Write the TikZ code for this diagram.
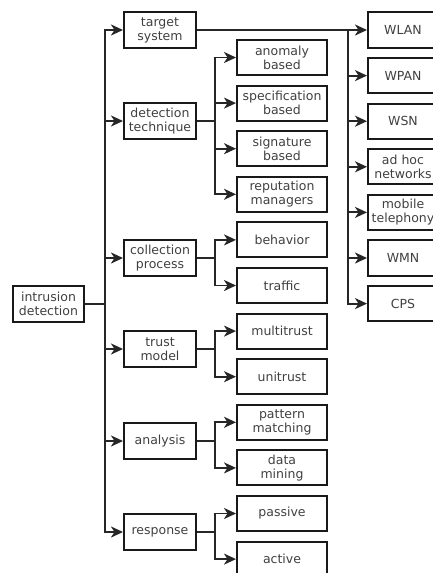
\documentclass[tikz,border=0pt]{standalone}
\usepackage{fontspec}
\setsansfont{DejaVu Sans}
\usetikzlibrary{arrows.meta,positioning}

\begin{document}
\begin{tikzpicture}[->,>={Stealth[length=12pt,width=11pt,inset=3.5pt]},x=1pt,y=-1pt,node distance=8.5pt,
      line width=1.9pt,draw=black!85,
      every node/.style={font=\sffamily\fontsize{12.5}{14}\selectfont,align=center,text=black!75},
      main node/.style={rectangle,draw=black!90,line width=2pt,inner sep=1pt,minimum height=35.1pt},
      cat node/.style={main node,minimum width=72pt},
      sub node/.style={main node,minimum width=90pt},
      net node/.style={main node,minimum width=70pt},
      fork edge/.style={to path={-- ++(#1,0) |- (\tikztotarget) \tikztonodes}}]

    \useasboundingbox (0,0) rectangle (432,573);

    \node[main node,minimum width=71pt] (root) at (48.5,304) {intrusion\\detection};

    \node[cat node] (target) at (160,30) {target\\system};
    \node[cat node] (technique) at (160,121) {detection\\technique};
    \node[cat node] (collection) at (160,258) {collection\\process};
    \node[cat node] (trust) at (160,349) {trust\\model};
    \node[cat node] (analysis) at (160,441) {analysis};
    \node[cat node] (response) at (160,532) {response};

    \node[sub node] (anomaly) at (282,57.5) {anomaly\\based};
    \node[sub node] (spec) [below=of anomaly] {specification\\based};
    \node[sub node] (signature) [below=of spec] {signature\\based};
    \node[sub node] (reputation) [below=of signature] {reputation\\managers};
    \node[sub node] (behavior) [below=of reputation] {behavior};
    \node[sub node] (traffic) [below=of behavior] {traffic};
    \node[sub node] (multi) [below=of traffic] {multitrust};
    \node[sub node] (uni) [below=of multi] {unitrust};
    \node[sub node] (pattern) [below=of uni] {pattern\\matching};
    \node[sub node] (mining) [below=of pattern] {data\\mining};
    \node[sub node] (passive) [below=of mining] {passive};
    \node[sub node] (active) [below=of passive] {active};

    \node[net node] (wlan) at (403,30) {WLAN};
    \node[net node] (wpan) [below=of wlan] {WPAN};
    \node[net node] (wsn) [below=of wpan] {WSN};
    \node[net node] (adhoc) [below=of wsn] {ad hoc\\networks};
    \node[net node] (mobile) [below=of adhoc] {mobile\\telephony};
    \node[net node] (wmn) [below=of mobile] {WMN};
    \node[net node] (cps) [below=of wmn] {CPS};

    % root to categories
    \path (root.east)
    edge[fork edge=20pt] (target.west)
    edge[fork edge=20pt] (technique.west)
    edge[fork edge=20pt] (collection.west)
    edge[fork edge=20pt] (trust.west)
    edge[fork edge=20pt] (analysis.west)
    edge[fork edge=20pt] (response.west);

    % categories to leaves
    \path (technique.east)
    edge[fork edge=18pt] (anomaly.west)
    edge[fork edge=18pt] (spec.west)
    edge[fork edge=18pt] (signature.west)
    edge[fork edge=18pt] (reputation.west);
    \path (collection.east)
    edge[fork edge=18pt] (behavior.west)
    edge[fork edge=18pt] (traffic.west);
    \path (trust.east)
    edge[fork edge=18pt] (multi.west)
    edge[fork edge=18pt] (uni.west);
    \path (analysis.east)
    edge[fork edge=18pt] (pattern.west)
    edge[fork edge=18pt] (mining.west);
    \path (response.east)
    edge[fork edge=18pt] (passive.west)
    edge[fork edge=18pt] (active.west);

    % target systems
    \path (target.east)
    edge[fork edge=151pt] (wlan.west)
    edge[fork edge=151pt] (wpan.west)
    edge[fork edge=151pt] (wsn.west)
    edge[fork edge=151pt] (adhoc.west)
    edge[fork edge=151pt] (mobile.west)
    edge[fork edge=151pt] (wmn.west)
    edge[fork edge=151pt] (cps.west);
\end{tikzpicture}
\end{document}
